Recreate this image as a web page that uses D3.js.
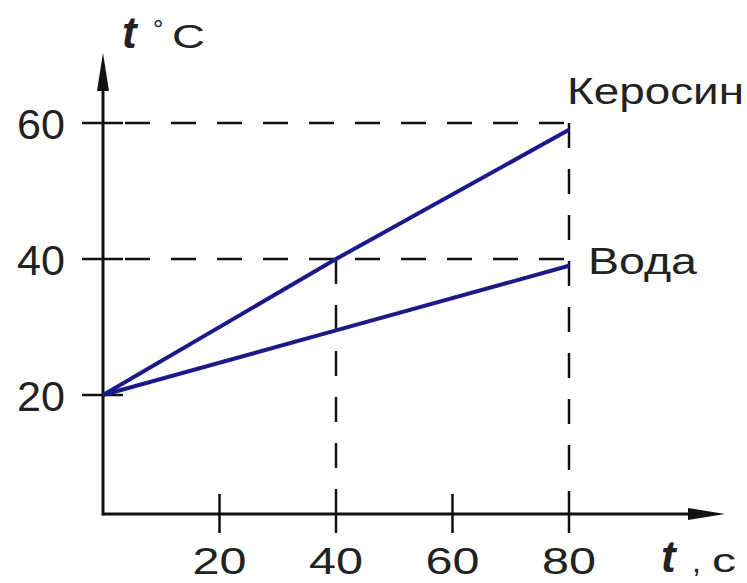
<!DOCTYPE html>
<html>
<head>
<meta charset="utf-8">
<script src="https://cdn.jsdelivr.net/npm/d3@7"></script>
<style>
  body { margin: 0; background: #fff; }
  text { font-family: "Liberation Sans", Arial, sans-serif; fill: #222; }
</style>
</head>
<body>
<svg width="747" height="583"></svg>
<script>
// donnees
let temps = [0, 40, 80]
let kerosine = [20, 40, 59]
let eau = [20, 29.5, 39]
let ticksX = [20, 40, 60, 80]
let ticksY = [20, 40, 60]
let guidesX = [40, 80]        // pointilles verticaux
let guidesY = [40, 60]        // pointilles horizontaux
let guideHaut = [40, 60]      // hauteur de depart des verticales

let svg = d3.select("svg")
let x = d3.scaleLinear().domain([0, 80]).range([103, 569])
let y = d3.scaleLinear().domain([0, 60]).range([531, 123])
let axeY = 514   // ligne de l'axe des x (pixel)

let bleu = "#1c1a8a"

// pointilles
guidesY.forEach(v => {
    svg.append("line")
        .attr("x1", x(0) + 22).attr("x2", x(80))
        .attr("y1", y(v)).attr("y2", y(v))
        .attr("stroke", "#111").attr("stroke-width", 2.5)
        .attr("stroke-dasharray", "25,21")
})
guidesX.forEach((v, i) => {
    svg.append("line")
        .attr("x1", x(v)).attr("x2", x(v))
        .attr("y1", y(guideHaut[i])).attr("y2", axeY - 20)
        .attr("stroke", "#111").attr("stroke-width", 2.5)
        .attr("stroke-dasharray", "25,21")
})

// axes
svg.append("line")
    .attr("x1", x(0)).attr("x2", 700)
    .attr("y1", axeY).attr("y2", axeY)
    .attr("stroke", "#111").attr("stroke-width", 3)
svg.append("path")
    .attr("d", `M725 ${axeY} L688 ${axeY - 6} L688 ${axeY + 6} Z`)
    .attr("fill", "#111")
svg.append("line")
    .attr("x1", x(0)).attr("x2", x(0))
    .attr("y1", axeY + 1.5).attr("y2", 80)
    .attr("stroke", "#111").attr("stroke-width", 3)
svg.append("path")
    .attr("d", `M${x(0)} 53 L${x(0) - 6} 91 L${x(0) + 6} 91 Z`)
    .attr("fill", "#111")

// graduations
ticksX.forEach(v => {
    svg.append("line")
        .attr("x1", x(v)).attr("x2", x(v))
        .attr("y1", axeY - 20).attr("y2", axeY + 19)
        .attr("stroke", "#111").attr("stroke-width", 2.5)
    svg.append("text")
        .attr("x", x(v) - 27).attr("y", 574)
        .attr("font-size", 36)
        .attr("textLength", 54).attr("lengthAdjust", "spacingAndGlyphs")
        .text(v)
})
ticksY.forEach(v => {
    svg.append("text")
        .attr("x", 17).attr("y", y(v) + 16)
        .attr("font-size", 43)
        .attr("textLength", 48).attr("lengthAdjust", "spacingAndGlyphs")
        .text(v)
    svg.append("line")
        .attr("x1", x(0) - 21).attr("x2", x(0) + 20)
        .attr("y1", y(v)).attr("y2", y(v))
        .attr("stroke", "#111").attr("stroke-width", 2.5)
})

// courbes
let ligne = d3.line().x((d, i) => x(temps[i])).y(d => y(d))
svg.append("path").datum(kerosine)
    .attr("d", ligne).attr("fill", "none")
    .attr("stroke", bleu).attr("stroke-width", 4)
svg.append("path").datum(eau)
    .attr("d", ligne).attr("fill", "none")
    .attr("stroke", bleu).attr("stroke-width", 4)

// etiquettes
svg.append("text").attr("x", 567).attr("y", 104)
    .attr("font-size", 37)
    .attr("textLength", 177).attr("lengthAdjust", "spacingAndGlyphs")
    .text("Керосин")
svg.append("text").attr("x", 588).attr("y", 274)
    .attr("font-size", 37)
    .attr("textLength", 109).attr("lengthAdjust", "spacingAndGlyphs")
    .text("Вода")

let serif = "'Liberation Serif', serif"
svg.append("text").attr("x", 122).attr("y", 48).attr("font-size", 44)
    .attr("font-weight", "bold").attr("font-style", "italic")
    .attr("font-family", serif).text("t")
svg.append("text").attr("x", 153).attr("y", 38).attr("font-size", 26).text("°")
svg.append("text").attr("x", 172).attr("y", 48).attr("font-size", 33)
    .attr("textLength", 33).attr("lengthAdjust", "spacingAndGlyphs").text("C")

svg.append("text").attr("x", 661).attr("y", 572).attr("font-size", 44)
    .attr("font-weight", "bold").attr("font-style", "italic")
    .attr("font-family", serif).text("t")
svg.append("text").attr("x", 692).attr("y", 572).attr("font-size", 32).text(",")
svg.append("text").attr("x", 712).attr("y", 572).attr("font-size", 34)
    .attr("textLength", 24).attr("lengthAdjust", "spacingAndGlyphs").text("c")
</script>
</body>
</html>
